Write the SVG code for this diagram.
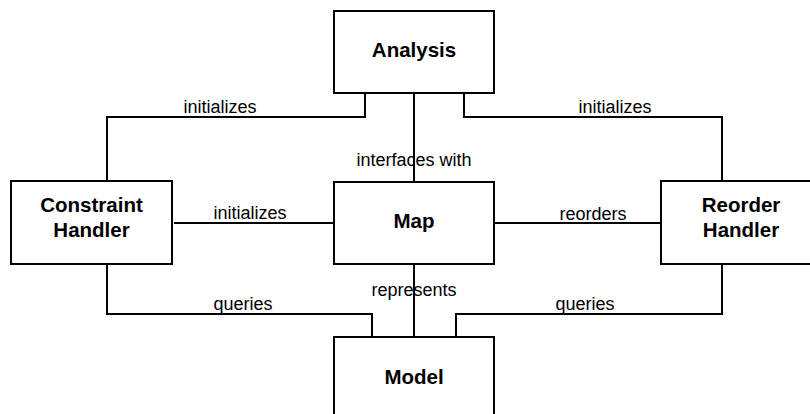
<svg xmlns="http://www.w3.org/2000/svg" width="810" height="414" viewBox="0 0 810 414">
  <style>
    .box { fill: #ffffff; stroke: #000000; stroke-width: 2; }
    .wire { fill: none; stroke: #000000; stroke-width: 2; }
    .name { font-family: "Liberation Sans", Arial, sans-serif; font-size: 20.5px; font-weight: bold; fill: #000000; text-anchor: middle; }
    .lbl { font-family: "Liberation Sans", Arial, sans-serif; font-size: 18px; fill: #000000; text-anchor: middle; }
  </style>
  <rect width="810" height="414" fill="#ffffff"/>

  <!-- connectors -->
  <g id="connectors">
    <polyline class="wire" points="365,93 365,117 107,117 107,181"/>
    <polyline class="wire" points="464,93 464,117 722,117 722,181"/>
    <line class="wire" x1="414" y1="93" x2="414" y2="182"/>
    <line class="wire" x1="174" y1="223" x2="334" y2="223"/>
    <line class="wire" x1="494" y1="223" x2="661" y2="223"/>
    <polyline class="wire" points="107,264 107,314 372,314 372,337"/>
    <line class="wire" x1="414" y1="264" x2="414" y2="337"/>
    <polyline class="wire" points="722,264 722,314 456,314 456,337"/>
    <text class="lbl" x="220" y="113">initializes</text>
    <text class="lbl" x="615" y="113">initializes</text>
    <text class="lbl" x="414" y="166">interfaces with</text>
    <text class="lbl" x="250" y="219">initializes</text>
    <text class="lbl" x="593" y="220">reorders</text>
    <text class="lbl" x="414" y="296">represents</text>
    <text class="lbl" x="243" y="310">queries</text>
    <text class="lbl" x="585" y="310">queries</text>
  </g>

  <!-- nodes -->
  <g id="analysis">
    <rect class="box" x="334" y="11" width="160" height="82"/>
    <text class="name" x="414" y="57">Analysis</text>
  </g>
  <g id="constraint-handler">
    <rect class="box" x="11" y="181" width="161" height="83"/>
    <text class="name" x="91.5" y="212">Constraint</text>
    <text class="name" x="91.5" y="237">Handler</text>
  </g>
  <g id="map">
    <rect class="box" x="334" y="182" width="160" height="82"/>
    <text class="name" x="414" y="228">Map</text>
  </g>
  <g id="reorder-handler">
    <rect class="box" x="661" y="181" width="161" height="83"/>
    <text class="name" x="741" y="212">Reorder</text>
    <text class="name" x="741" y="237">Handler</text>
  </g>
  <g id="model">
    <rect class="box" x="334" y="337" width="160" height="90"/>
    <text class="name" x="414" y="384">Model</text>
  </g>
</svg>
